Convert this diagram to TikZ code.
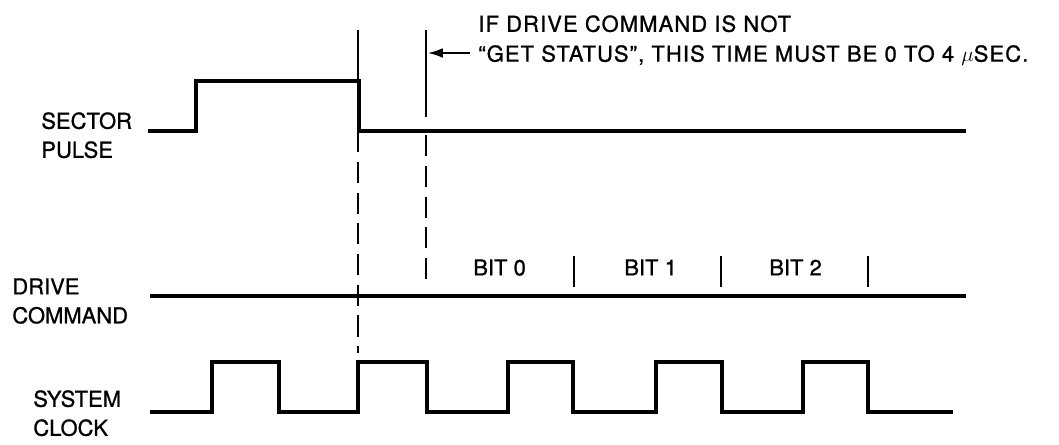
\documentclass[tikz,border=0pt]{standalone}
\usepackage{fontspec}
\setmainfont{TeX Gyre Heros}[FakeBold=1]
\usetikzlibrary{arrows.meta, positioning, calc}

\begin{document}
\begin{tikzpicture}[x=0.02cm,y=-0.02cm,
  signal/.style={line width=2.4pt},
  marker/.style={line width=1.6pt},
  dashmark/.style={marker,dash pattern=on 12pt off 5.5pt},
  lbl/.style={align=left,inner sep=0pt,anchor=north west,font=\fontsize{12.5}{16.5}\selectfont},
  note/.style={lbl,font=\fontsize{12.5}{17}\selectfont\addfontfeatures{LetterSpace=5}}]
\useasboundingbox (0,0) rectangle (1059,444);

\node[lbl] (sector) at (41,112) {SECTOR\\PULSE};
\node[lbl] (drive) at (12,278) {DRIVE\\COMMAND};
\node[lbl] (clock) at (33,390) {SYSTEM\\CLOCK};
\node[note] (status) at (478,15) {IF DRIVE COMMAND IS NOT\\``GET STATUS'', THIS TIME MUST BE 0 TO 4 $\mu$SEC.};

\node[lbl] (bit0) at (473,259) {BIT 0};
\node[lbl] (bit1) at (624,259) {BIT 1};
\node[lbl] (bit2) at (769,259) {BIT 2};

\coordinate (fall top) at (358,30);
\coordinate (fall high) at (358,81);
\coordinate (fall low) at (358,131);
\coordinate (fall end) at (358,353);
\coordinate (wait top) at (426,30);
\coordinate (wait mid) at (426,117);
\coordinate (wait low) at (426,135);
\coordinate (wait end) at (426,288);
\coordinate (arrow tail) at (470,53);
\coordinate (arrow tip) at (427,53);

\draw[marker] (fall top) to (fall high);
\draw[dashmark] (fall low) to (fall end);
\draw[marker] (wait top) to (wait mid);
\draw[dashmark] (wait low) to (wait end);
\draw[marker,-{Latex[length=9pt,width=5.5pt]}] (arrow tail) to (arrow tip);

\draw[marker] (574,256) to (574,287);
\draw[marker] (721,256) to (721,287);
\draw[marker] (868,256) to (868,287);

\draw[signal] (148,131) -| (196,81) -| (359,131) -- (966,131);
\draw[signal] (150,296) -- (966,296);
\draw[signal] (150,412) -| (212,362) -| (279,412) -| (358,362) -| (427,412) -| (508,362) -| (573,412) -| (656,362) -| (722,412) -| (803,362) -| (868,412) -- (953,412);
\end{tikzpicture}
\end{document}
